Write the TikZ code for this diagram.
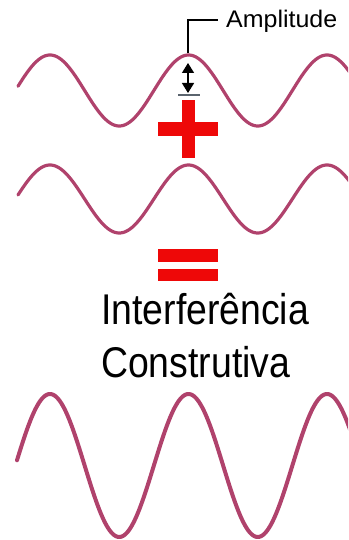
\documentclass[tikz,border=0pt]{standalone}
\usepackage{fontspec}
\setmainfont{Liberation Sans}
\usetikzlibrary{arrows.meta}
\definecolor{wave}{RGB}{176,66,108}
\definecolor{plusred}{RGB}{238,8,8}
\definecolor{bargray}{RGB}{90,100,110}
\begin{document}
\begin{tikzpicture}[x=1pt,y=-1pt,
  wavestyle/.style={draw=wave,line width=3.2pt,line cap=round,line join=round},
  bigwave/.style={draw=wave,line width=4pt,line cap=round,line join=round},
  redbar/.style={fill=plusred,draw=none},
  bigtext/.style={inner sep=0pt,font=\fontsize{43}{53}\selectfont,xscale=0.87,anchor=base west},
  labeltext/.style={inner sep=0pt,font=\fontsize{24}{28}\selectfont,xscale=1.04,anchor=base west},
  amparrow/.style={{Triangle[length=10pt,width=12pt]}-{Triangle[length=10pt,width=12pt]}}]
\useasboundingbox (0,0) rectangle (348,540);
\begin{scope}
\clip (0,0) rectangle (348,540);
% wave 1
\draw[wavestyle] plot[domain=18:356,samples=220,smooth] (\x,{90.5-35.5*cos((\x-50)*2.5993)});
% wave 2
\draw[wavestyle] plot[domain=18:356,samples=220,smooth] (\x,{199-34*cos((\x-50)*2.5993)});
% wave 3
\draw[bigwave] plot[domain=17:356,samples=260,smooth] (\x,{465.5-71.5*cos((\x-50)*2.5993)});
\end{scope}
% amplitude label
\node[labeltext] (amp) at (226,28) {Amplitude};
\coordinate (crest) at (188,53);
\coordinate (corner) at (188,20);
\coordinate (lend) at (218,20);
\draw[black,line width=1.4pt] (crest) -- (corner) -- (lend);
% amplitude arrow
\coordinate (atop) at (188,63);
\coordinate (abot) at (188,93);
\draw[black,line width=1.4pt,amparrow] (atop) -- (abot);
\coordinate (bl) at (178,95);
\coordinate (br) at (200,95);
\draw[bargray,line width=1.8pt] (bl) -- (br);
% plus
\fill[redbar] (158,122) rectangle (218,136);
\fill[redbar] (182,100) rectangle (195,158);
% equals
\fill[redbar] (158,249) rectangle (218,262);
\fill[redbar] (158,269) rectangle (218,281);
% text
\node[bigtext] (t1) at (101,324) {Interferência};
\node[bigtext] (t2) at (101,377) {Construtiva};
\end{tikzpicture}
\end{document}
